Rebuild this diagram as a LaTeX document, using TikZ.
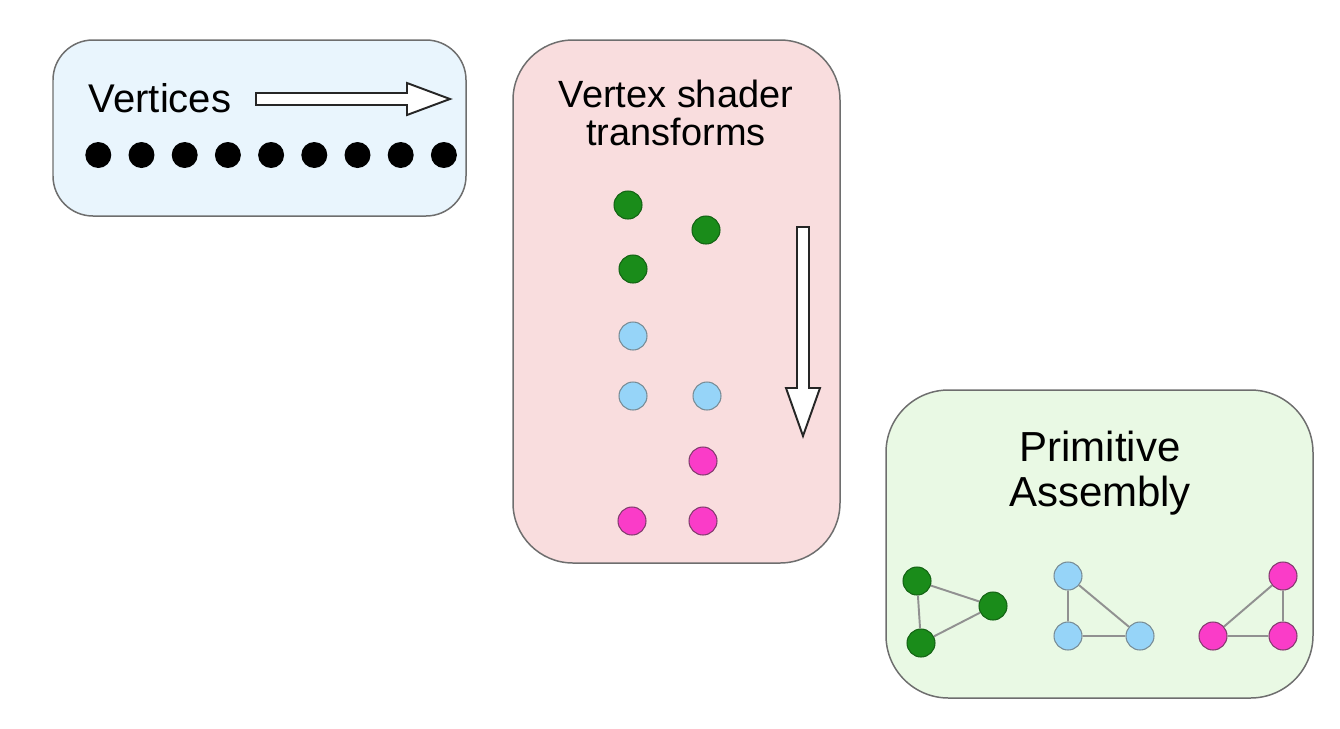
\documentclass[tikz,border=0pt]{standalone}
\usepackage{fontspec}
\setmainfont{Liberation Sans}

\definecolor{vtxfill}{RGB}{233,245,253}
\definecolor{shdfill}{RGB}{249,221,222}
\definecolor{asmfill}{RGB}{233,249,228}
\definecolor{boxline}{RGB}{110,110,110}
\definecolor{ptgreen}{RGB}{26,140,26}
\definecolor{ptgreenline}{RGB}{20,100,20}
\definecolor{ptblue}{RGB}{150,212,248}
\definecolor{ptblueline}{RGB}{120,140,150}
\definecolor{ptpink}{RGB}{250,60,200}
\definecolor{ptpinkline}{RGB}{130,60,110}
\definecolor{edgegray}{RGB}{145,145,145}

\begin{document}
\begin{tikzpicture}[x=0.02cm,y=-0.02cm]
	\tikzstyle{every node}+=[inner sep=0pt]
	\tikzstyle{stage}=[draw=boxline,line width=0.85pt]
	\tikzstyle{hollow}=[draw=black!85,fill=white,line width=1.1pt]
	\tikzstyle{vdot}=[circle,fill=black,minimum size=0.52cm]
	\tikzstyle{pt}=[circle,line width=0.6pt,minimum size=0.56cm]
	\tikzstyle{gpt}=[pt,fill=ptgreen,draw=ptgreenline]
	\tikzstyle{bpt}=[pt,fill=ptblue,draw=ptblueline]
	\tikzstyle{ppt}=[pt,fill=ptpink,draw=ptpinkline]
	\tikzstyle{tri}=[draw=edgegray,line width=1.1pt]
	\useasboundingbox (0,0) rectangle (1340,728);
	% stage boxes
	\draw [stage,fill=vtxfill,rounded corners=0.8cm] (53,40) rectangle (466,216);
	\draw [stage,fill=shdfill,rounded corners=1.2cm] (513,40) rectangle (840,563);
	\draw [stage,fill=asmfill,rounded corners=1.25cm] (886,390) rectangle (1313,698);
	% vertices
	\node [font=\fontsize{22.8}{27}\selectfont] (vtxlabel) at (160,98) {Vertices};
	\draw [hollow] (256,93) -- (407,93) -- (407,83) -- (450,99) -- (407,115) -- (407,105) -- (256,105) -- cycle;
	\foreach \i in {0,...,8}
		\node [vdot] (v\i) at ({98.3+43.2*\i},155) {};
	% vertex shader
	\node [font=\fontsize{21.6}{21.6}\selectfont,align=center] (shdlabel) at (676,113) {Vertex shader\\transforms};
	\draw [hollow] (797,227) -- (809,227) -- (809,388) -- (820,388) -- (803,436) -- (786,388) -- (797,388) -- cycle;
	\node [gpt] (s1) at (628,205) {};
	\node [gpt] (s2) at (706,230) {};
	\node [gpt] (s3) at (633,269) {};
	\node [bpt] (s4) at (633,336) {};
	\node [bpt] (s5) at (633,396) {};
	\node [bpt] (s6) at (707,396) {};
	\node [ppt] (s7) at (703,461) {};
	\node [ppt] (s8) at (632,521) {};
	\node [ppt] (s9) at (703,521) {};
	% primitive assembly
	\node [font=\fontsize{23.9}{25.6}\selectfont,align=center] (asmlabel) at (1100,473) {Primitive\\Assembly};
	\node [gpt] (g1) at (917,581) {};
	\node [gpt] (g2) at (993,606) {};
	\node [gpt] (g3) at (921,643) {};
	\node [bpt] (b1) at (1068,576) {};
	\node [bpt] (b2) at (1068,636) {};
	\node [bpt] (b3) at (1140,636) {};
	\node [ppt] (p1) at (1283,576) {};
	\node [ppt] (p2) at (1213,636) {};
	\node [ppt] (p3) at (1283,636) {};
	\draw [tri] (g1) -- (g2) -- (g3) -- (g1);
	\draw [tri] (b1) -- (b2) -- (b3) -- (b1);
	\draw [tri] (p1) -- (p3) -- (p2) -- (p1);
\end{tikzpicture}
\end{document}
